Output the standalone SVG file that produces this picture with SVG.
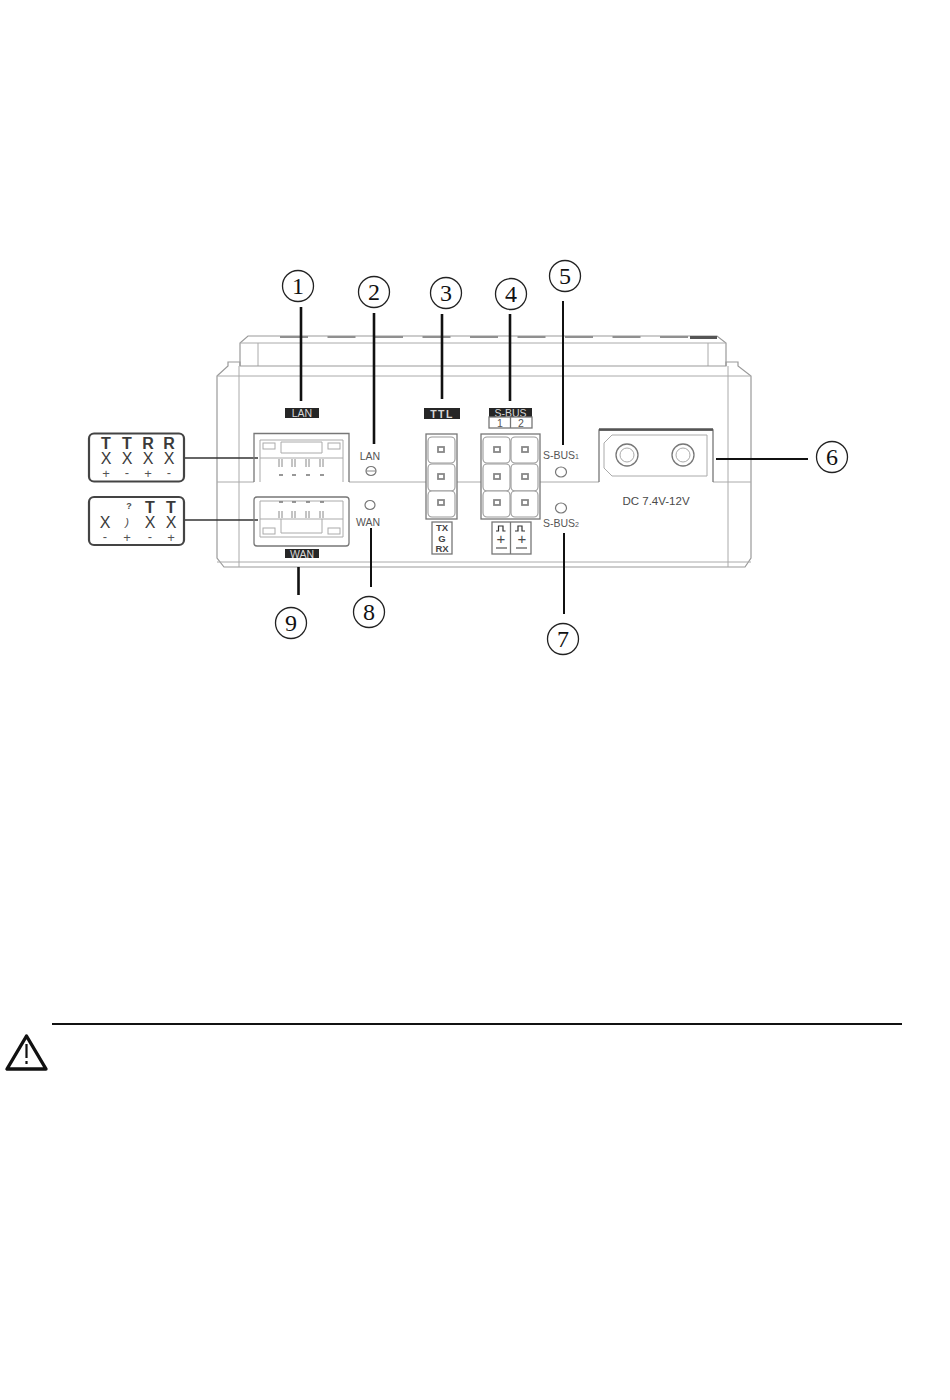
<svg xmlns="http://www.w3.org/2000/svg" width="950" height="1400" viewBox="0 0 950 1400">
<style>
text{font-family:"Liberation Sans",Arial,sans-serif;fill:#4a4a4a;text-anchor:middle}
.num{font-family:"Liberation Serif","Times New Roman",serif;font-size:24px;fill:#111}
.ring{fill:none;stroke:#222;stroke-width:1.3}
.body{fill:none;stroke:#9a9a9a;stroke-width:1.2}
.dk{fill:none;stroke:#777;stroke-width:1.3}
.lt{fill:none;stroke:#aaa;stroke-width:1}
.tab{fill:#909090}
.lead{fill:none;stroke:#111;stroke-width:2.6}
.thin{stroke-width:2}
.wire{fill:none;stroke:#333;stroke-width:1.6}
.term{fill:#fff;stroke:#444;stroke-width:2.2}
.t{font-size:16px;fill:#3a3a3a;font-weight:bold}
.x{font-size:16px;fill:#3a3a3a}
.s{font-size:13px;fill:#555}
.black{fill:#262626}
.w{fill:#d8d8d8;font-size:10.5px}
.lab{font-size:10.5px;fill:#555}
.mini{font-size:9.5px;fill:#444;font-weight:bold}
.cell{fill:#fff;stroke:#999;stroke-width:1.1}
.pad{fill:#fff;stroke:#888;stroke-width:1.8}
.led{fill:#fff;stroke:#777;stroke-width:1.2}
.pin{fill:none;stroke:#888;stroke-width:1}
</style>

<g id="housing">
<path class="body" d="M240 366V343L248 336H717L726 343V366"/>
<path class="lt" d="M240 343H726M258 343V366M708 343V366"/>
<path class="tab" d="M280 336h28v2h-28zM327.500 336h28v2h-28zM375 336h28v2h-28zM422.500 336h28v2h-28zM470 336h28v2h-28zM517.500 336h28v2h-28zM565 336h28v2h-28zM612.500 336h28v2h-28zM660 336h28v2h-28z"/>
<path fill="#555" d="M690 336h27v3h-27z"/>
<path class="body" d="M217 376L228 366V362H240V366H726V362H738V366L751 376V558L745 567H224L217 558Z"/>
<path class="lt" d="M217 376H751M239 366V567M728 366V567M217 482H254M349 482H426M457 482H481M540 482H599M713 482H751M217 562H751"/>
</g>

<g id="connectors">
<path class="lead" d="M301 307V401"/>
<path class="lead" d="M374 313V444"/>
<path class="lead" d="M442 314V399"/>
<path class="lead" d="M510 314V401"/>
<path class="lead thin" d="M563 301V445"/>
<path class="lead thin" d="M716 459H808"/>
<path class="lead thin" d="M564 533V614"/>
<path class="lead thin" d="M371 528V587"/>
<path class="lead" d="M298.500 567V595"/>
<path class="wire" d="M184 458H258"/>
<path class="wire" d="M184 520H258"/>
</g>

<g id="n1"><circle class="ring" cx="298" cy="286" r="15.500"/><text class="num" x="298" y="294">1</text></g>
<g id="n2"><circle class="ring" cx="374" cy="292" r="15.500"/><text class="num" x="374" y="300">2</text></g>
<g id="n3"><circle class="ring" cx="446" cy="293" r="15.500"/><text class="num" x="446" y="301">3</text></g>
<g id="n4"><circle class="ring" cx="511" cy="294" r="15.500"/><text class="num" x="511" y="302">4</text></g>
<g id="n5"><circle class="ring" cx="565" cy="276" r="15.500"/><text class="num" x="565" y="284">5</text></g>
<g id="n6"><circle class="ring" cx="832" cy="457" r="15.500"/><text class="num" x="832" y="465">6</text></g>
<g id="n7"><circle class="ring" cx="563" cy="639" r="15.500"/><text class="num" x="563" y="647">7</text></g>
<g id="n8"><circle class="ring" cx="369" cy="612" r="15.500"/><text class="num" x="369" y="620">8</text></g>
<g id="n9"><circle class="ring" cx="291" cy="623" r="15.500"/><text class="num" x="291" y="631">9</text></g>

<g id="lan-terminal">
<rect class="term" x="89" y="433.500" width="95" height="48" rx="5"/>
<text class="t" x="106" y="449">T</text><text class="t" x="127" y="449">T</text><text class="t" x="148" y="449">R</text><text class="t" x="169" y="449">R</text>
<text class="x" x="106" y="464">X</text><text class="x" x="127" y="464">X</text><text class="x" x="148" y="464">X</text><text class="x" x="169" y="464">X</text>
<text class="s" x="106" y="478">+</text><text class="s" x="127" y="477">-</text><text class="s" x="148" y="478">+</text><text class="s" x="169" y="477">-</text>
</g>
<g id="wan-terminal">
<rect class="term" x="89" y="497" width="95" height="48" rx="5"/>
<text x="129" y="509" font-size="9" font-weight="bold" fill="#444">?</text>
<text class="t" x="150" y="513">T</text><text class="t" x="171" y="513">T</text>
<text class="x" x="105" y="528" font-size="15">X</text><text x="127" y="526" font-size="11" font-style="italic" fill="#444">)</text><text class="x" x="150" y="528">X</text><text class="x" x="171" y="528">X</text>
<text class="s" x="105" y="541">-</text><text class="s" x="127" y="542">+</text><text class="s" x="150" y="541">-</text><text class="s" x="171" y="542">+</text>
</g>

<g id="lan-port">
<rect class="black" x="285" y="408" width="34" height="10"/><text class="w" x="302" y="417">LAN</text>
<path class="dk" d="M254 482V433.500H349V482"/>
<path class="lt" d="M260 482V440H343V482"/>
<path class="lt" d="M260 458H343M281 453V442H322V453H281"/>
<rect class="lt" x="263" y="443" width="12" height="6"/><rect class="lt" x="328" y="443" width="12" height="6"/>
<path class="pin" d="M279 459V467M282 459V467M292 459V467M295 459V467M306 459V467M309 459V467M320 459V467M323 459V467"/>
<path class="dk" d="M279 475h4M292 475h4M306 475h4M320 475h4"/>
<text class="lab" x="370" y="460">LAN</text>
<ellipse class="led" cx="371" cy="471" rx="5" ry="4.500"/><path class="pin" d="M366 471H376"/>
</g>

<g id="wan-port">
<rect class="dk" x="254" y="497" width="95" height="49" rx="3"/>
<path class="lt" d="M260 537V501H343V537Z"/>
<path class="lt" d="M260 519H343M281 519V533H322V519"/>
<rect class="lt" x="263" y="528" width="12" height="6"/><rect class="lt" x="328" y="528" width="12" height="6"/>
<path class="pin" d="M279 511V518M282 511V518M292 511V518M295 511V518M306 511V518M309 511V518M320 511V518M323 511V518"/>
<path class="dk" d="M279 502h4M292 502h4M306 502h4M320 502h4"/>
<rect class="black" x="285" y="549" width="34" height="9"/><text class="w" x="302" y="557.500">WAN</text>
<ellipse class="led" cx="370" cy="505" rx="5" ry="4.500"/>
<text class="lab" x="368" y="526">WAN</text>
</g>

<g id="ttl">
<rect class="black" x="424" y="408" width="36" height="11"/><text class="w" x="442" y="417.500" letter-spacing="1.500" font-weight="bold">TTL</text>
<rect class="dk" x="426" y="434" width="31" height="85" fill="#fff"/>
<rect class="cell" x="428" y="437" width="27" height="26" rx="4"/><rect class="cell" x="428" y="464" width="27" height="27" rx="4"/><rect class="cell" x="428" y="491" width="27" height="26" rx="4"/>
<rect class="pad" x="438" y="447" width="6" height="5"/><rect class="pad" x="438" y="474" width="6" height="5"/><rect class="pad" x="438" y="500" width="6" height="5"/>
<rect class="dk" x="432" y="522" width="20" height="32"/>
<text class="mini" x="442" y="531">TX</text><text class="mini" x="442" y="542">G</text><text class="mini" x="442" y="552">RX</text>
</g>

<g id="sbus">
<rect class="black" x="489" y="408" width="43" height="9"/><text class="w" x="510.500" y="416.500" font-size="11">S-BUS</text>
<rect class="dk" x="489" y="417" width="43" height="11" fill="#fff"/><path class="dk" d="M510.500 417V428"/>
<text class="lab" x="500" y="426.500" font-size="9.500">1</text><text class="lab" x="521" y="426.500" font-size="9.500">2</text>
<rect class="dk" x="481" y="434" width="59" height="85" fill="#fff"/>
<rect class="cell" x="483" y="437" width="27" height="26" rx="4"/><rect class="cell" x="511" y="437" width="27" height="26" rx="4"/>
<rect class="cell" x="483" y="464" width="27" height="27" rx="4"/><rect class="cell" x="511" y="464" width="27" height="27" rx="4"/>
<rect class="cell" x="483" y="491" width="27" height="26" rx="4"/><rect class="cell" x="511" y="491" width="27" height="26" rx="4"/>
<rect class="pad" x="494" y="447" width="6" height="5"/><rect class="pad" x="522" y="447" width="6" height="5"/>
<rect class="pad" x="494" y="474" width="6" height="5"/><rect class="pad" x="522" y="474" width="6" height="5"/>
<rect class="pad" x="494" y="500" width="6" height="5"/><rect class="pad" x="522" y="500" width="6" height="5"/>
<rect class="dk" x="492" y="522" width="39" height="32"/><path class="dk" d="M510.500 522V554"/>
<path d="M496 531H498.500V526H503V531H505.500M515 531H518V526H522V531H525" fill="none" stroke="#333" stroke-width="1.200"/>
<text x="501" y="544" font-size="15" fill="#333">+</text><text x="522" y="544" font-size="15" fill="#333">+</text>
<path d="M496 548H507M516 548H527" stroke="#333" stroke-width="1.200"/>
<text class="lab" x="561" y="459" font-size="10">S-BUS<tspan font-size="7">1</tspan></text>
<ellipse class="led" cx="561" cy="472" rx="5.500" ry="5"/>
<ellipse class="led" cx="561" cy="508" rx="5.500" ry="5"/>
<text class="lab" x="561" y="527" font-size="10">S-BUS<tspan font-size="7">2</tspan></text>
</g>

<g id="power">
<path class="dk" d="M599 482V430H713V482"/><path d="M599 429.500H713" stroke="#555" stroke-width="2.500"/>
<path class="lt" d="M612 435H707V476H612L604 468V443Z"/>
<circle class="dk" cx="627" cy="455" r="11"/><circle class="lt" cx="627" cy="455" r="7"/>
<circle class="dk" cx="683" cy="455" r="11"/><circle class="lt" cx="683" cy="455" r="7"/>
<text x="656" y="505" font-size="11.500" fill="#444">DC 7.4V-12V</text>
</g>

<g id="warning">
<path d="M52 1024H902" stroke="#111" stroke-width="2"/>
<path d="M26.500 1036L7 1069H46Z" fill="#fff" stroke="#111" stroke-width="3.400" stroke-linejoin="round"/>
<path d="M26.500 1044V1058M26.500 1061V1064" stroke="#111" stroke-width="2.200"/>
</g>
</svg>
